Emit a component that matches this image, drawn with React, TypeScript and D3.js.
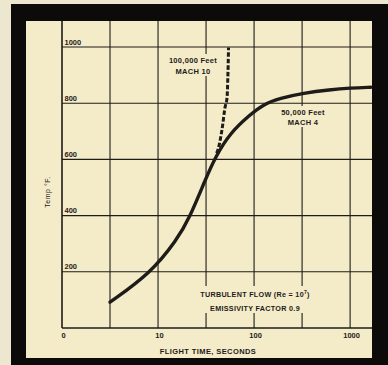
import React from "react";
import * as d3 from "d3";

const W = 388;
const H = 365;

// Data (flight time in seconds, temperature in °F)
const solidTime = [3.16, 8.3, 15.7, 21.5, 30.9, 39.4, 56.2, 90.9, 124, 186, 326, 617, 1000, 1650];
const solidTemp = [92, 194, 313, 395, 526, 608, 694, 759, 795, 818, 836, 848, 854, 857];
const dashTime = [40.7, 42.4, 46.2, 49.9, 51.9, 53.3, 54.2];
const dashTemp = [622, 638, 703, 786, 810, 893, 998];

const xGridValues = [1, 3.162, 10, 31.62, 100, 316.2, 1000];
const xTickValues = [1, 10, 100, 1000];
const xTickLabels = ["0", "10", "100", "1000"];
const yTickValues = [200, 400, 600, 800, 1000];
const yTickLabels = ["200", "400", "600", "800", "1000"];

const BG = "#f4ebc9";
const INK = "#1e1c18";
const FONT = "'Liberation Sans', Arial, sans-serif";

export default function App() {
  const x = d3.scaleLog().domain([1, 1650]).range([62, 371]);
  const y = d3.scaleLinear().domain([0, 1000]).range([328, 47]);
  const plotTop = 21;

  const solidPts: [number, number][] = solidTime.map((t, i) => [x(t), y(solidTemp[i])]);
  const dashPts: [number, number][] = dashTime.map((t, i) => [x(t), y(dashTemp[i])]);
  const lineGen = d3.line<[number, number]>().curve(d3.curveBasis);
  const dashGen = d3.line<[number, number]>().curve(d3.curveCatmullRom.alpha(0.5));

  const txt = { fontFamily: FONT, fontWeight: 700 as const, fill: INK };

  return (
    <svg
      width={W}
      height={H}
      style={{ position: "fixed", left: 0, top: 0, display: "block" }}
    >
      <rect x={0} y={0} width={W} height={H} fill="#ede7d0" />
      <rect x={26} y={21} width={346} height={337} fill={BG} />

      {/* grid */}
      {xGridValues.map((v, i) => (
        <line key={"vx" + i} x1={x(v)} x2={x(v)} y1={plotTop} y2={y(0)} stroke={INK} strokeWidth={i === 0 ? 1.6 : 1.1} />
      ))}
      {yTickValues.map((v, i) => (
        <line key={"hy" + i} x1={62} x2={372} y1={y(v)} y2={y(v)} stroke={INK} strokeWidth={1.1} />
      ))}
      <line x1={62} x2={372} y1={y(0)} y2={y(0)} stroke={INK} strokeWidth={1.6} />

      {/* y tick labels */}
      {yTickValues.map((v, i) => (
        <text key={"yl" + i} x={64.5} y={y(v) - 2.5} fontSize={7.5} {...txt}>
          {yTickLabels[i]}
        </text>
      ))}
      {/* x tick labels */}
      {xTickValues.map((v, i) => (
        <text key={"xl" + i} x={x(v) + 1.5} y={337.5} fontSize={7.5} textAnchor="middle" {...txt}>
          {xTickLabels[i]}
        </text>
      ))}

      {/* axis titles */}
      <text x={208} y={354} fontSize={7.5} textAnchor="middle" letterSpacing={0.4} {...txt}>
        FLIGHT TIME, SECONDS
      </text>
      <text
        transform="translate(49.5,192) rotate(-90)"
        fontSize={7}
        textAnchor="middle"
        fontFamily={FONT}
        fill={INK}
        letterSpacing={0.5}
      >
        Temp °F.
      </text>

      {/* annotation masks + text */}
      <rect x={164} y={54} width={58} height={22} fill={BG} />
      <text x={193} y={63} fontSize={7.5} textAnchor="middle" letterSpacing={0.3} {...txt}>
        100,000 Feet
      </text>
      <text x={193} y={73.5} fontSize={7.5} textAnchor="middle" letterSpacing={0.3} {...txt}>
        MACH 10
      </text>

      <rect x={276} y={106} width={54} height={21} fill={BG} />
      <text x={303} y={115} fontSize={7.5} textAnchor="middle" letterSpacing={0.3} {...txt}>
        50,000 Feet
      </text>
      <text x={303} y={125} fontSize={7.5} textAnchor="middle" letterSpacing={0.3} {...txt}>
        MACH 4
      </text>

      <rect x={192} y={286} width={126} height={27} fill={BG} />
      <text x={255} y={297} fontSize={7.2} textAnchor="middle" letterSpacing={0.3} {...txt}>
        TURBULENT FLOW (Re = 10<tspan dy={-3} fontSize={5}>7</tspan><tspan dy={3}>)</tspan>
      </text>
      <text x={255} y={311} fontSize={7.2} textAnchor="middle" letterSpacing={0.3} {...txt}>
        EMISSIVITY FACTOR 0.9
      </text>

      {/* curves */}
      <path d={lineGen(solidPts) || ""} fill="none" stroke={INK} strokeWidth={3.4} strokeLinecap="round" />
      <path d={dashGen(dashPts) || ""} fill="none" stroke={INK} strokeWidth={3} strokeDasharray="4.5,2" />

      {/* black frame */}
      <rect x={11} y={4} width={W - 11} height={17} fill="#0c0b0a" />
      <rect x={11} y={4} width={15} height={H - 4} fill="#0c0b0a" />
      <rect x={372} y={4} width={16} height={H - 4} fill="#0c0b0a" />
      <rect x={11} y={358} width={W - 11} height={7} fill="#0c0b0a" />
    </svg>
  );
}
